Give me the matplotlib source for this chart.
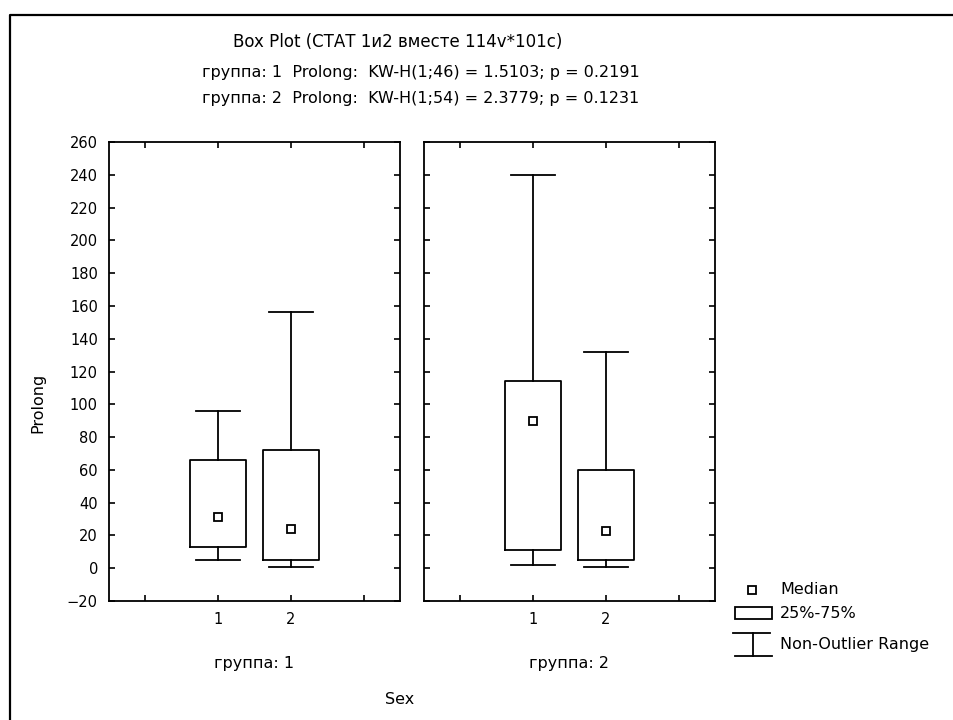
import matplotlib.pyplot as plt
from matplotlib.lines import Line2D
from matplotlib.patches import Rectangle

plt.rcParams.update({'font.size': 10.5, 'font.family': ['DejaVu Sans']})

W, H = 954, 720

# data: group 1 and group 2, Sex = 1, 2
sex = [1, 2]
panels = ['группа: 1', 'группа: 2']
medians = [[31, 24], [90, 23]]
q1 = [[13, 5], [11, 5]]
q3 = [[66, 72], [114, 60]]
whis_lo = [[5, 1], [2, 1]]
whis_hi = [[96, 156], [240, 132]]
y_ticks = list(range(-20, 261, 20))

title = 'Box Plot (СТАТ 1и2 вместе 114v*101c)'
stats_lines = ['группа: 1  Prolong:  KW-H(1;46) = 1.5103; p = 0.2191',
               'группа: 2  Prolong:  KW-H(1;54) = 2.3779; p = 0.1231']
fs = 10.5
fs2 = 11.5


def px(x, y):
    return x / W, 1 - y / H


fig = plt.figure(figsize=(W / 100, H / 100), dpi=100)

lw = 1.3
for i, left in enumerate([109, 424]):
    ax = fig.add_axes([left / W, (H - 601) / H, 291 / W, 459 / H])
    st = [dict(med=medians[i][j], q1=q1[i][j], q3=q3[i][j],
               whislo=whis_lo[i][j], whishi=whis_hi[i][j]) for j in range(2)]
    ax.bxp(st, positions=sex, widths=0.78, capwidths=0.6, showfliers=False,
           boxprops=dict(color='black', lw=lw),
           whiskerprops=dict(color='black', lw=lw),
           capprops=dict(color='black', lw=lw),
           medianprops=dict(linestyle='none'))
    ax.plot(sex, medians[i], ls='none', marker='s', ms=6, mfc='white',
            mec='black', mew=1.3)
    ax.set_xlim(-0.5, 3.5)
    ax.set_ylim(-20, 260)
    ax.set_xticks([0, 1, 2, 3])
    ax.set_xticklabels(['', '1', '2', ''])
    ax.set_yticks(y_ticks)
    ax.tick_params(direction='in', length=4, width=1.2, top=True, right=True,
                   labelsize=fs, pad=8, colors='black')
    if i == 1:
        ax.set_yticklabels([])
    for s in ax.spines.values():
        s.set_linewidth(1.3)
    ax.set_xlabel(panels[i], fontsize=fs2, labelpad=21)

fig.text(*px(38, 403), 'Prolong', rotation=90, ha='center', va='center', fontsize=fs2)
fig.text(*px(400, 700), 'Sex', ha='center', va='center', fontsize=fs2)

fig.text(*px(398, 42), title, ha='center', va='center', fontsize=12)
fig.text(*px(421, 72), stats_lines[0], ha='center', va='center', fontsize=fs2)
fig.text(*px(421, 98), stats_lines[1], ha='center', va='center', fontsize=fs2)

# legend
fig.add_artist(Line2D([px(752, 0)[0]], [px(0, 590)[1]], marker='s', ms=5.5,
                      mfc='white', mec='black', mew=1.3, ls='none'))
x0, y0 = px(735, 619)
x1, y1 = px(772, 607)
fig.add_artist(Rectangle((x0, y0), x1 - x0, y1 - y0, transform=fig.transFigure,
                         fill=False, ec='black', lw=lw))
for xs, ys in [((733, 770), (633, 633)), ((735, 772), (656, 656)),
               ((753, 753), (633, 656))]:
    fig.add_artist(Line2D([x / W for x in xs], [1 - y / H for y in ys],
                          color='black', lw=lw))
fig.text(*px(780, 590), 'Median', va='center', fontsize=fs2)
fig.text(*px(780, 613), '25%-75%', va='center', fontsize=fs2)
fig.text(*px(780, 644), 'Non-Outlier Range', va='center', fontsize=fs2)

# outer frame (left and top edges)
fig.add_artist(Line2D([10 / W, 10 / W, 1], [0, 1 - 15 / H, 1 - 15 / H],
                      color='black', lw=1.6))

plt.savefig('out.png', dpi=100)
